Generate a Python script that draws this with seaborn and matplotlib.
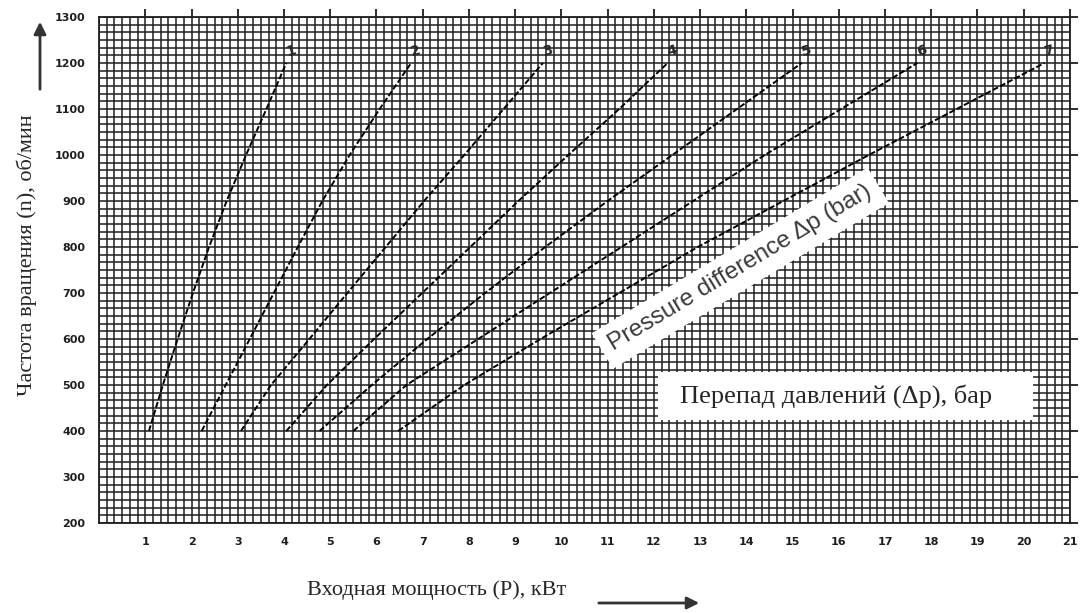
"""
input power vs. shaft speed chart for several pressure differences
"""

import pandas as pd
import seaborn as sns
import matplotlib.pyplot as plt
from matplotlib.ticker import MultipleLocator
from matplotlib.patches import Rectangle

# shaft speed, rpm (same for every curve)
rpm = [400, 500, 600, 700, 800, 900, 1000, 1100, 1200]

# input power, kW, one list per pressure-difference curve
p_curve1 = [1.08, 1.38, 1.70, 2.03, 2.38, 2.76, 3.18, 3.62, 4.05]
p_curve2 = [2.22, 2.74, 3.26, 3.78, 4.30, 4.83, 5.42, 6.07, 6.75]
p_curve3 = [3.07, 3.72, 4.55, 5.37, 6.20, 7.03, 7.90, 8.75, 9.60]
p_curve4 = [4.05, 4.93, 5.95, 6.99, 8.03, 9.07, 10.15, 11.25, 12.30]
p_curve5 = [4.77, 5.90, 7.10, 8.35, 9.65, 11.00, 12.40, 13.80, 15.20]
p_curve6 = [5.50, 6.65, 8.20, 9.75, 11.30, 12.85, 14.40, 16.05, 17.70]
p_curve7 = [6.47, 7.90, 9.55, 11.25, 12.95, 14.80, 16.65, 18.55, 20.45]
curve_labels = ['1', '2', '3', '4', '5', '6', '7']

x_ticks = list(range(1, 22))
y_ticks = list(range(200, 1301, 100))

curves = [p_curve1, p_curve2, p_curve3, p_curve4, p_curve5, p_curve6, p_curve7]
df = pd.concat([pd.DataFrame({'rpm': rpm, 'kW': p, 'curve': lab})
                for p, lab in zip(curves, curve_labels)], ignore_index=True)

sns.set_style('white')
plt.rcParams['font.family'] = ['DejaVu Sans']

fig, ax = plt.subplots(figsize=(10.8, 6.13), dpi=100)
fig.subplots_adjust(left=0.0917, right=0.9907, bottom=0.1468, top=0.9723)

# the dense graph-paper grid
ax.set_xlim(0, 21)
ax.set_ylim(200, 1300)
ax.set_xticks(x_ticks)
ax.set_yticks(y_ticks)
ax.xaxis.set_minor_locator(MultipleLocator(1 / 6))
ax.yaxis.set_minor_locator(MultipleLocator(100 / 6))
ax.grid(which='both', color='#1e1e1e', lw=1.1)

for s in ax.spines.values():
    s.set_color('#1e1e1e')
    s.set_linewidth(1.3)

ax.tick_params(which='major', direction='out', length=6, width=1.3, color='#1e1e1e',
               top=True, right=True, labeltop=False, labelright=False,
               labelsize=8, pad=4)
ax.tick_params(which='minor', length=0)
plt.setp(ax.get_xticklabels() + ax.get_yticklabels(), fontweight='bold', color='#1e1e1e')

# the curves
sns.lineplot(data=df, x='kW', y='rpm', hue='curve', style='curve',
             palette=['black'] * 7, dashes=[(3, 1.2)] * 7, sort=False,
             estimator=None, lw=1.4, legend=False, ax=ax)

for p, lab in zip(curves, curve_labels):
    ax.text(p[-1] + 0.1, 1208, lab, fontsize=10, fontweight='bold', rotation=15,
            ha='center', va='bottom')

ax.set_xlabel('')
ax.set_ylabel('')

# rotated english caption on a white band
ax.text(13.87, 754, 'Pressure difference \u0394p (bar)', rotation=31,
        rotation_mode='anchor', ha='center', va='center', fontsize=17.5,
        family='Liberation Sans', color='#3a3a3a', zorder=4,
        bbox=dict(fc='white', ec='none', boxstyle='square,pad=0.4'))

# russian caption box
ax.add_patch(Rectangle((12.1, 424), 8.1, 104, fc='white', ec='none', zorder=3))
ax.text(15.95, 476, 'Перепад давлений (\u0394p), бар', ha='center', va='center',
        fontsize=19, family='Liberation Serif', zorder=4)

# axis titles and arrows
fig.text(27 / 1080, 1 - 255 / 613, 'Частота вращения (n), об/мин', rotation=90,
         ha='center', va='center', fontsize=16, family='Liberation Serif')
fig.text(437 / 1080, 1 - 590 / 613, 'Входная мощность (P), кВт',
         ha='center', va='center', fontsize=16, family='Liberation Serif')

ax.annotate('', xy=(40, 594), xytext=(40, 521), xycoords='figure pixels',
            textcoords='figure pixels',
            arrowprops=dict(arrowstyle='-|>', lw=2, color='#333', mutation_scale=18))
ax.annotate('', xy=(702, 10), xytext=(596, 10), xycoords='figure pixels',
            textcoords='figure pixels',
            arrowprops=dict(arrowstyle='-|>', lw=2, color='#333', mutation_scale=18))

fig.savefig('out.png', dpi=100)
